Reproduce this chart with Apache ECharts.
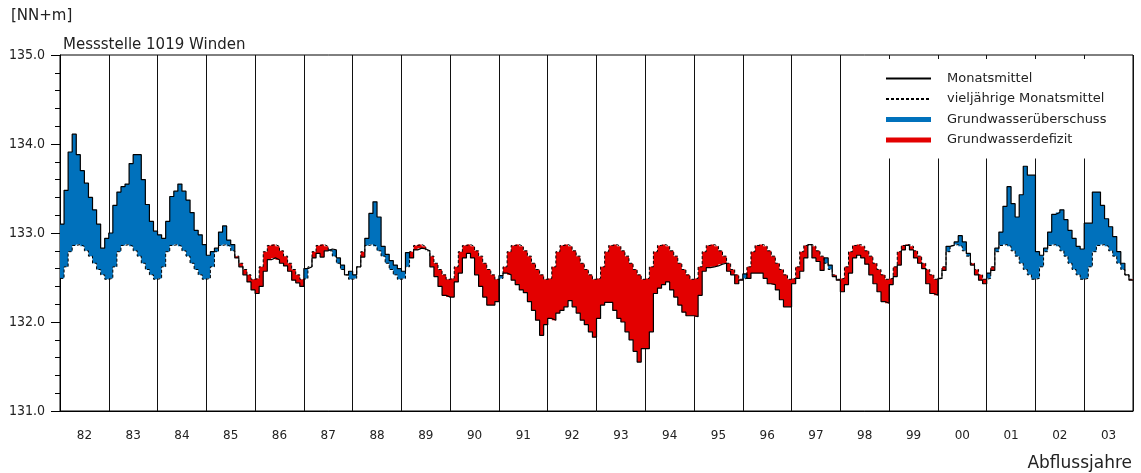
<!DOCTYPE html>
<html>
<head>
<meta charset="utf-8">
<script src="https://cdn.jsdelivr.net/npm/echarts/dist/echarts.min.js"></script>
<style>
  html, body { margin: 0; padding: 0; background: #fff; }
  #chart { width: 1141px; height: 473px; }
</style>
</head>
<body>
<div id="chart"></div>
<script>
// Abflussjahre (Nov - Okt), je 12 Monatswerte
var years = ['82', '83', '84', '85', '86', '87', '88', '89', '90', '91', '92',
             '93', '94', '95', '96', '97', '98', '99', '00', '01', '02', '03'];

// vieljährige Monatsmittel, Nov .. Okt
var longTermMean = [132.49, 132.62, 132.79, 132.86, 132.87, 132.85,
                    132.80, 132.74, 132.66, 132.59, 132.53, 132.48];

// Monatsmittel [NN+m], eine Zeile je Abflussjahr
var monthly = [
  133.10, 133.48, 133.91, 134.11, 133.88, 133.70, 133.56, 133.40, 133.26, 133.10, 132.83, 132.94, // 82
  133.00, 133.31, 133.46, 133.52, 133.55, 133.78, 133.88, 133.88, 133.60, 133.32, 133.13, 133.02, // 83
  132.98, 132.94, 133.13, 133.41, 133.47, 133.55, 133.47, 133.37, 133.23, 133.03, 132.98, 132.87, // 84
  132.75, 132.79, 132.83, 133.01, 133.08, 132.92, 132.87, 132.72, 132.62, 132.53, 132.45, 132.36, // 85
  132.32, 132.40, 132.57, 132.70, 132.72, 132.70, 132.66, 132.63, 132.57, 132.47, 132.44, 132.40, // 86
  132.60, 132.62, 132.72, 132.77, 132.73, 132.80, 132.82, 132.81, 132.72, 132.64, 132.53, 132.57, // 87
  132.53, 132.62, 132.73, 132.94, 133.22, 133.35, 133.18, 132.85, 132.76, 132.69, 132.64, 132.60, // 88
  132.57, 132.78, 132.72, 132.81, 132.83, 132.82, 132.80, 132.62, 132.51, 132.40, 132.30, 132.28, // 89
  132.28, 132.45, 132.55, 132.72, 132.77, 132.72, 132.53, 132.40, 132.28, 132.19, 132.19, 132.23, // 90
  132.52, 132.55, 132.53, 132.47, 132.42, 132.36, 132.33, 132.23, 132.13, 132.02, 131.85, 131.97, // 91
  132.04, 132.02, 132.10, 132.13, 132.17, 132.24, 132.17, 132.10, 132.02, 131.97, 131.89, 131.83, // 92
  132.04, 132.19, 132.22, 132.22, 132.13, 132.04, 132.00, 131.89, 131.80, 131.67, 131.55, 131.70, // 93
  131.70, 131.89, 132.32, 132.38, 132.42, 132.45, 132.36, 132.28, 132.19, 132.11, 132.07, 132.07, // 94
  132.06, 132.30, 132.57, 132.61, 132.62, 132.63, 132.65, 132.66, 132.57, 132.53, 132.43, 132.47, // 95
  132.54, 132.49, 132.55, 132.55, 132.55, 132.49, 132.43, 132.42, 132.36, 132.25, 132.17, 132.17, // 96
  132.43, 132.49, 132.57, 132.72, 132.87, 132.72, 132.68, 132.58, 132.72, 132.64, 132.51, 132.47, // 97
  132.34, 132.42, 132.55, 132.72, 132.75, 132.72, 132.65, 132.53, 132.43, 132.34, 132.23, 132.21, // 98
  132.42, 132.51, 132.64, 132.81, 132.86, 132.81, 132.72, 132.66, 132.60, 132.43, 132.32, 132.30, // 99
  132.49, 132.58, 132.85, 132.86, 132.90, 132.97, 132.90, 132.77, 132.64, 132.53, 132.47, 132.43, // 00
  132.55, 132.58, 132.83, 133.01, 133.30, 133.52, 133.33, 133.18, 133.43, 133.75, 133.65, 133.65, // 01
  132.79, 132.75, 132.83, 133.01, 133.21, 133.23, 133.26, 133.15, 133.03, 132.94, 132.85, 132.82, // 02
  133.11, 133.11, 133.46, 133.46, 133.31, 133.16, 133.07, 132.96, 132.79, 132.66, 132.53, 132.47  // 03
];

var yTicks = { min: 131, max: 135, step: 1 };

var BLUE = '#0071bc';
var RED = '#e30000';
var FONT = 'DejaVu Sans';

var nMonths = monthly.length;

function meanAt(k) { return longTermMean[k % 12]; }

// Stufenlinien (letzter Punkt schließt die Stufe)
var lineData = [], meanData = [];
for (var i = 0; i <= nMonths; i++) {
    var k = Math.min(i, nMonths - 1);
    lineData.push([i, monthly[k]]);
    meanData.push([i, meanAt(k)]);
}

/**
 * Eine zusammenhängende Stufenfläche zwischen zwei Kurven
 * @param {Function} upper  oberer Wert je Monat
 * @param {Function} lower  unterer Wert je Monat
 */
function bandRenderer(upper, lower) {
    return function (params, api) {
        var pts = [];
        for (var k = 0; k < nMonths; k++) {
            var u = upper(k);
            pts.push(api.coord([k, u]), api.coord([k + 1, u]));
        }
        for (var j = nMonths - 1; j >= 0; j--) {
            var l = lower(j);
            pts.push(api.coord([j + 1, l]), api.coord([j, l]));
        }
        return {
            type: 'polygon',
            shape: { points: pts },
            style: { fill: api.visual('color') }
        };
    };
}

var extent = [[0, nMonths, Math.min.apply(null, monthly), Math.max.apply(null, monthly)]];

var chart = echarts.init(document.getElementById('chart'));

// Linien-Einträge der Legende ohne Symbol
var noSymbol = { opacity: 0 };

var option = {
    animation: false,
    backgroundColor: '#fff',
    title: [
        { text: '[NN+m]', left: 6, top: 4,
          textStyle: { fontFamily: FONT, fontSize: 15, fontWeight: 'normal', color: '#222' } },
        { text: 'Messstelle 1019 Winden', left: 58, top: 33,
          textStyle: { fontFamily: FONT, fontSize: 15, fontWeight: 'normal', color: '#222' } },
        { text: 'Abflussjahre', right: 4, top: 450,
          textStyle: { fontFamily: FONT, fontSize: 17, fontWeight: 'normal', color: '#222' } }
    ],
    legend: {
        orient: 'vertical',
        left: 872,
        top: 59,
        padding: [13, 12, 12, 13],
        backgroundColor: '#fff',
        itemWidth: 45,
        itemHeight: 14,
        itemGap: 7.5,
        selectedMode: false,
        textStyle: { fontFamily: FONT, fontSize: 13, color: '#222', padding: [0, 0, 0, 11] },
        data: [
            { name: 'Monatsmittel', itemStyle: noSymbol },
            { name: 'vieljährige Monatsmittel', itemStyle: noSymbol },
            { name: 'Grundwasserüberschuss', icon: 'path://M0,0H45V5H0Z' },
            { name: 'Grundwasserdefizit', icon: 'path://M0,0H45V5H0Z' }
        ]
    },
    grid: {
        left: 60, right: 8, top: 55, bottom: 62,
        show: true, borderColor: '#000', borderWidth: 1
    },
    xAxis: [
        {
            type: 'value',
            min: 0,
            max: nMonths,
            interval: 12,
            axisLine: { lineStyle: { color: '#000' } },
            axisTick: { show: false },
            axisLabel: { show: false },
            splitLine: { show: true, lineStyle: { color: '#111', width: 1 } }
        },
        {
            type: 'category',
            data: years,
            position: 'bottom',
            boundaryGap: true,
            axisLine: { show: false },
            axisTick: { show: false },
            axisLabel: { margin: 19, fontFamily: FONT, fontSize: 12, color: '#222' },
            splitLine: { show: false }
        }
    ],
    yAxis: {
        type: 'value',
        min: yTicks.min,
        max: yTicks.max,
        interval: yTicks.step,
        axisLine: { show: true, lineStyle: { color: '#000' } },
        axisTick: { show: true, length: 9, lineStyle: { color: '#000' } },
        minorTick: { show: true, splitNumber: 5, length: 5, lineStyle: { color: '#000' } },
        splitLine: { show: false },
        axisLabel: {
            margin: 15,
            fontFamily: 'DejaVu Sans Condensed',
            fontSize: 14,
            color: '#222',
            formatter: function (v) { return v.toFixed(1); }
        }
    },
    series: [
        {
            name: 'Grundwasserüberschuss',
            type: 'custom',
            color: BLUE,
            renderItem: bandRenderer(
                function (k) { return Math.max(monthly[k], meanAt(k)); },
                meanAt),
            encode: { x: [0, 1], y: [2, 3] },
            data: extent,
            silent: true,
            z: 2
        },
        {
            name: 'Grundwasserdefizit',
            type: 'custom',
            color: RED,
            renderItem: bandRenderer(
                meanAt,
                function (k) { return Math.min(monthly[k], meanAt(k)); }),
            encode: { x: [0, 1], y: [2, 3] },
            data: extent,
            silent: true,
            z: 2
        },
        {
            name: 'vieljährige Monatsmittel',
            type: 'line',
            step: 'end',
            symbol: 'none',
            color: '#000',
            lineStyle: { color: '#000', width: 1, type: [3, 2] },
            data: meanData,
            z: 3
        },
        {
            name: 'Monatsmittel',
            type: 'line',
            step: 'end',
            symbol: 'none',
            color: '#000',
            lineStyle: { color: '#000', width: 1.2 },
            data: lineData,
            z: 4
        }
    ]
};

chart.setOption(option);
</script>
</body>
</html>
